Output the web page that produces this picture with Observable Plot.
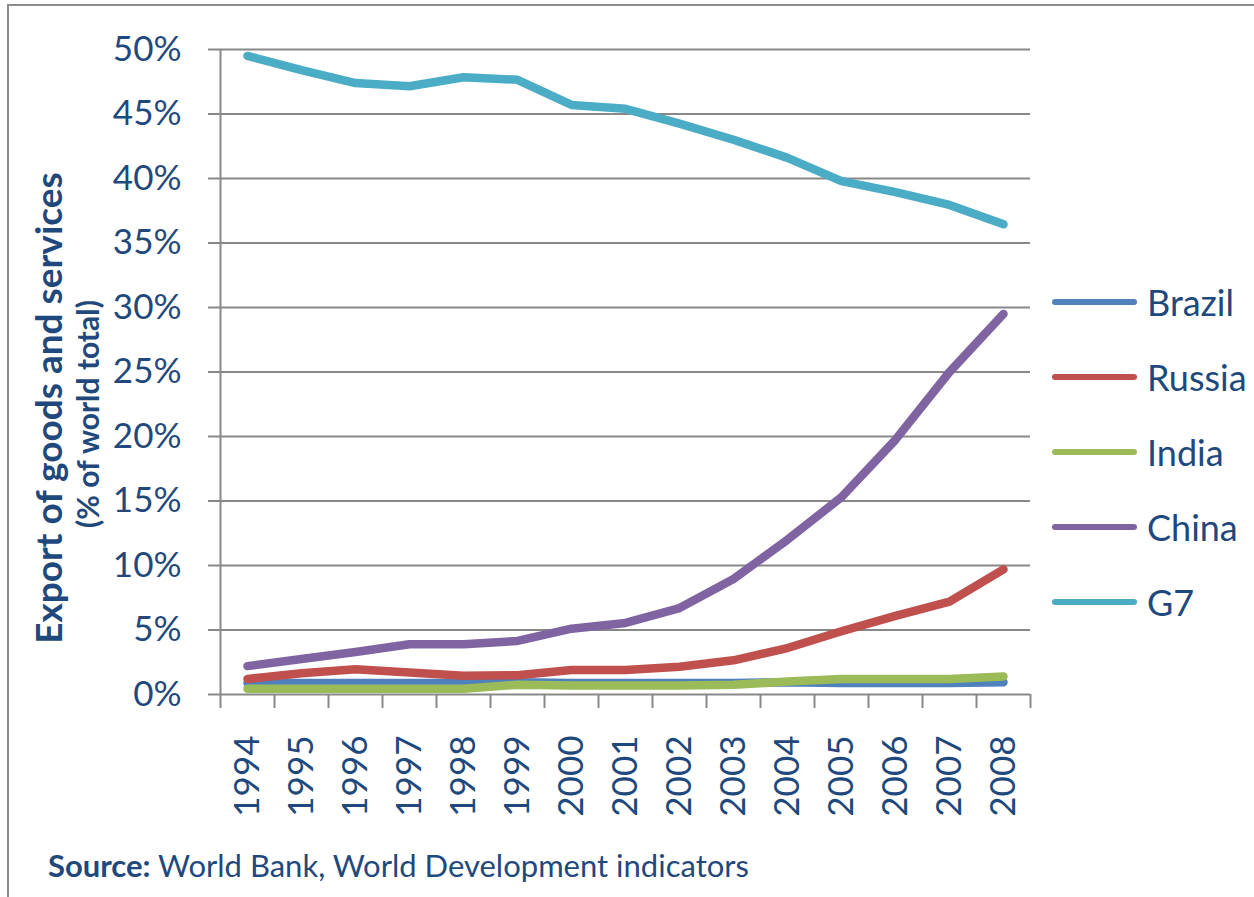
<!DOCTYPE html>
<html><head><meta charset="utf-8">
<script src="https://cdn.jsdelivr.net/npm/d3@7"></script>
<script src="https://cdn.jsdelivr.net/npm/@observablehq/plot@0.6"></script>
<style>
body{margin:0;background:#fff;font-family:Lato,"Open Sans",sans-serif;}
#wrap{position:relative;width:1254px;height:897px;overflow:hidden;background:#fff;}
#frame{position:absolute;left:7px;top:4px;width:1400px;height:1000px;border-left:2px solid #8c8c8c;border-top:2px solid #8c8c8c;}
#chart{position:absolute;left:0;top:0;}
.yt{position:absolute;width:700px;transform:translate(-50%,-50%) rotate(-90deg);text-align:center;color:#1F497D;font-weight:bold;line-height:1;white-space:nowrap;}
#yt1{left:47px;top:408px;font-size:37px;}
#yt2{left:87px;top:414px;font-size:30px;}
#legend{position:absolute;left:1052px;top:264px;}
#legend .item{height:75px;display:flex;align-items:center;}
#legend .sw{width:85px;height:6px;border-radius:3px;margin-right:10px;}
#legend .lb{font-size:36px;color:#1F497D;}
#source{position:absolute;left:48px;top:846px;font-size:31px;color:#1F497D;white-space:nowrap;}
</style></head>
<body>
<div id="wrap">
<div id="frame"></div>
<div id="chart"></div>
<div class="yt" id="yt1">Export of goods and services</div>
<div class="yt" id="yt2">(% of world total)</div>
<div id="legend"></div>
<div id="source"><b>Source:</b> World Bank, World Development indicators</div>
</div>
<script>
const years = [1994,1995,1996,1997,1998,1999,2000,2001,2002,2003,2004,2005,2006,2007,2008];
const countries = ["Brazil","Russia","India","China","G7"];
const colors = ["#4F81BD","#C0504D","#9BBB59","#8064A2","#4BACC6"];
const brazil = [0.9,0.9,0.9,0.9,0.9,0.95,0.9,0.9,0.9,0.9,0.95,0.9,0.9,0.9,0.95];
const russia = [1.2,1.65,1.95,1.7,1.45,1.5,1.9,1.9,2.15,2.65,3.6,4.9,6.1,7.2,9.7];
const india = [0.45,0.45,0.45,0.45,0.45,0.75,0.7,0.7,0.7,0.75,1.0,1.2,1.2,1.2,1.4];
const china = [2.2,2.75,3.3,3.9,3.9,4.15,5.1,5.55,6.7,8.95,12.0,15.3,19.75,25.0,29.5];
const g7 = [49.5,48.4,47.4,47.15,47.85,47.65,45.7,45.4,44.25,43.0,41.6,39.8,38.95,37.95,36.45];
const yTicks = [0,5,10,15,20,25,30,35,40,45,50];

const textColor = "#1F497D";
const gridColor = "#888888";
const series = [brazil, russia, india, china, g7];
const data = [];
countries.forEach((c, k) => years.forEach((y, i) => data.push({country: c, year: y, value: series[k][i]})));
const boundaries = years.map(y => y - 0.5).concat([years[years.length-1] + 0.5]);

const chart = Plot.plot({
  width: 1254, height: 897,
  marginLeft: 220, marginRight: 224, marginTop: 49, marginBottom: 203,
  style: {fontFamily: "Lato, 'Open Sans', sans-serif", color: textColor, background: "transparent"},
  x: {type: "linear", domain: [boundaries[0], boundaries[boundaries.length-1]]},
  y: {domain: [0, 50]},
  color: {domain: countries, range: colors},
  marks: [
    Plot.ruleY(yTicks, {stroke: gridColor, strokeWidth: 2}),
    Plot.ruleX([boundaries[0]], {stroke: gridColor, strokeWidth: 2}),
    Plot.axisY(yTicks, {tickSize: 12, tickPadding: 27, tickFormat: d => d + "%", fontSize: 35, stroke: gridColor, strokeWidth: 2, fill: textColor, label: null}),
    Plot.axisX(boundaries, {tickSize: 14, tickFormat: () => "", stroke: gridColor, strokeWidth: 2, label: null}),
    Plot.axisX(years, {tickSize: 0, tickRotate: -90, tickPadding: 41, tickFormat: d => String(d), fontSize: 35, fill: textColor, label: null}),
    Plot.line(data, {x: "year", y: "value", z: "country", stroke: "country", strokeWidth: 8.5, strokeLinecap: "round", strokeLinejoin: "round"})
  ]
});
document.getElementById("chart").appendChild(chart);

const legend = document.getElementById("legend");
countries.forEach((c, k) => {
  const it = document.createElement("div"); it.className = "item";
  const sw = document.createElement("div"); sw.className = "sw"; sw.style.background = colors[k];
  const lb = document.createElement("div"); lb.className = "lb"; lb.textContent = c;
  it.appendChild(sw); it.appendChild(lb); legend.appendChild(it);
});
</script>
</body></html>
